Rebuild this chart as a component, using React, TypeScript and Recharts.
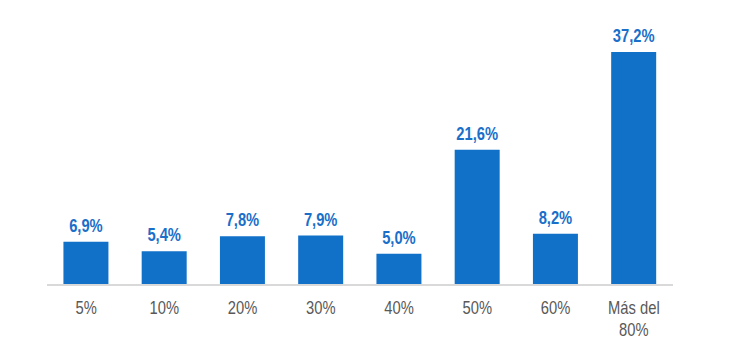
import React from 'react';
import { BarChart, Bar, XAxis, YAxis, LabelList } from 'recharts';

const categories = ['5%', '10%', '20%', '30%', '40%', '50%', '60%', 'Más del 80%'];
const shares = [6.9, 5.4, 7.8, 7.9, 5.0, 21.6, 8.2, 37.2];

const data = categories.map((name, i) => ({ name, value: shares[i] }));

// the source uses a narrow Arial; squeeze Liberation Sans to match
const FONT = "'Liberation Sans', Arial, sans-serif";
const SQUEEZE = 0.82;

const fmt = (v: number) => v.toFixed(1).replace('.', ',') + '%';

function Tick(props: any) {
  const { x, y, payload } = props;
  const label: string = payload.value;
  const lines = label.startsWith('Más del') ? ['Más del', label.replace('Más del ', '')] : [label];
  return (
    <g transform={`translate(${x},${y + 21}) scale(${SQUEEZE},1)`}>
      <text x={0} y={0} textAnchor="middle" fill="#595959" fontSize={18} fontFamily={FONT}>
        {lines.map((l, i) => (
          <tspan key={i} x={0} dy={i === 0 ? 0 : 22}>
            {l}
          </tspan>
        ))}
      </text>
    </g>
  );
}

function ValueLabel(props: any) {
  const { x, y, width, value } = props;
  return (
    <g transform={`translate(${x + width / 2},${y - 10}) scale(${SQUEEZE},1)`}>
      <text x={0} y={0} textAnchor="middle" fill="#1a6fc9" fontSize={18} fontWeight="bold" fontFamily={FONT}>
        {fmt(Number(value))}
      </text>
    </g>
  );
}

export default function App() {
  return (
    <div style={{ position: 'absolute', left: 0, top: 0, background: '#fff' }}>
      <BarChart
        width={734}
        height={358}
        data={data}
        margin={{ top: 52, right: 61, bottom: 13, left: 47 }}
        barCategoryGap="21%"
      >
        <XAxis
          dataKey="name"
          tick={<Tick />}
          tickLine={false}
          axisLine={{ stroke: '#d9d9d9', strokeWidth: 2 }}
          height={60}
          interval={0}
        />
        <YAxis hide domain={[0, 'dataMax']} />
        <Bar dataKey="value" fill="#1170c8" isAnimationActive={false}>
          <LabelList dataKey="value" content={<ValueLabel />} />
        </Bar>
      </BarChart>
    </div>
  );
}
